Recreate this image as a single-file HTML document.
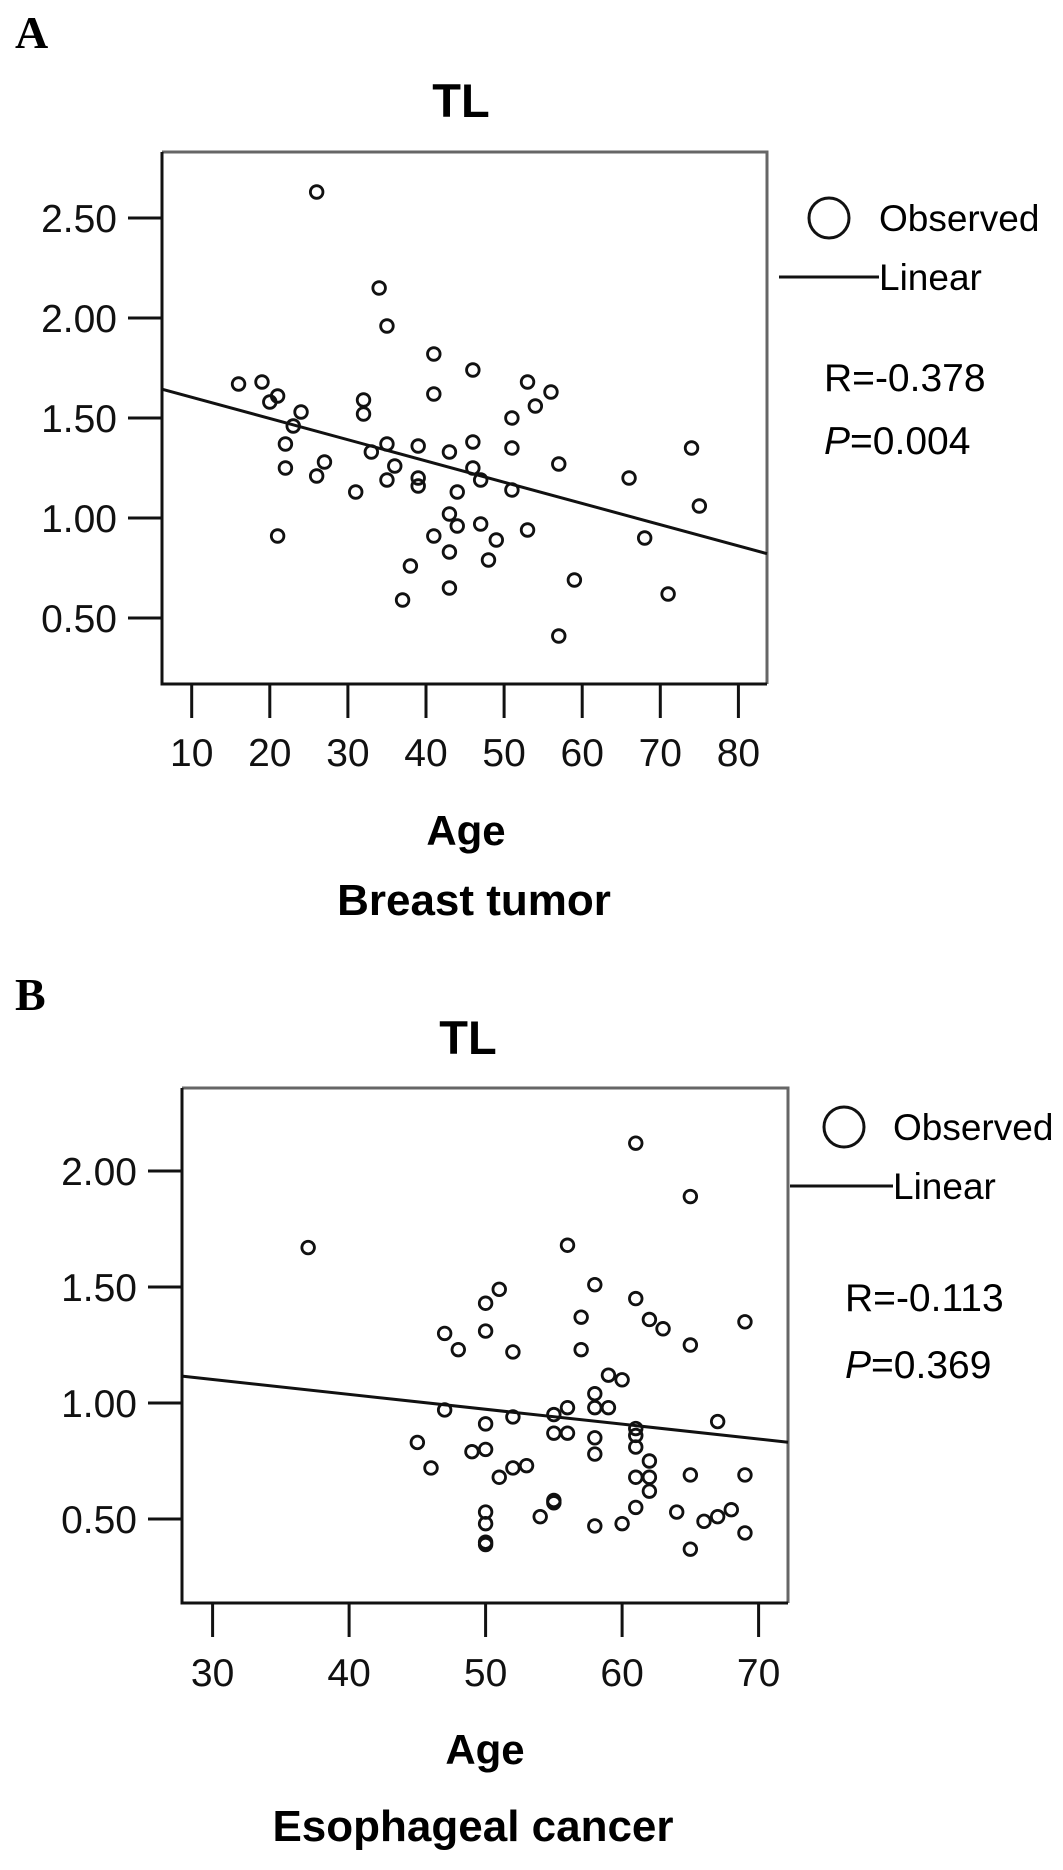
<!DOCTYPE html>
<html><head><meta charset="utf-8"><style>
html,body{margin:0;padding:0;background:#fff;}
svg{display:block;font-family:"Liberation Sans",Arial,sans-serif;}
</style></head><body>
<svg id="fig" width="1063" height="1870" viewBox="0 0 1063 1870" xmlns="http://www.w3.org/2000/svg"></svg>
<script>
// ---- Panel A data (Breast tumor) ----
const agesA = [26,34,35,41,46,16,19,21,20,24,23,32,32,41,53,56,54,51,22,22,21,26,27,33,35,36,35,31,39,39,39,43,46,46,47,51,51,44,43,44,41,47,49,43,38,48,37,43,53,57,59,57,66,68,71,74,75];
const tlA   = [2.63,2.15,1.96,1.82,1.74,1.67,1.68,1.61,1.58,1.53,1.46,1.59,1.52,1.62,1.68,1.63,1.56,1.50,1.37,1.25,0.91,1.21,1.28,1.33,1.37,1.26,1.19,1.13,1.36,1.20,1.16,1.33,1.38,1.25,1.19,1.35,1.14,1.13,1.02,0.96,0.91,0.97,0.89,0.83,0.76,0.79,0.59,0.65,0.94,1.27,0.69,0.41,1.20,0.90,0.62,1.35,1.06];
const xTicksA = [10,20,30,40,50,60,70,80];
const yTicksA = [0.5,1.0,1.5,2.0,2.5];
const yTickLabelsA = ["0.50","1.00","1.50","2.00","2.50"];
const fitA = [1.710,-0.01062]; // intercept, slope
// ---- Panel B data (Esophageal cancer) ----
const agesB = [37,61,65,56,58,51,50,61,57,62,63,69,47,50,48,52,57,65,59,60,58,56,58,59,55,47,52,50,67,61,61,55,56,58,45,49,50,61,58,46,52,53,51,62,62,61,62,65,69,55,55,61,64,50,54,68,67,66,50,60,58,50,50,69,65];
const tlB   = [1.67,2.12,1.89,1.68,1.51,1.49,1.43,1.45,1.37,1.36,1.32,1.35,1.30,1.31,1.23,1.22,1.23,1.25,1.12,1.10,1.04,0.98,0.98,0.98,0.95,0.97,0.94,0.91,0.92,0.89,0.86,0.87,0.87,0.85,0.83,0.79,0.80,0.81,0.78,0.72,0.72,0.73,0.68,0.75,0.68,0.68,0.62,0.69,0.69,0.58,0.57,0.55,0.53,0.53,0.51,0.54,0.51,0.49,0.48,0.48,0.47,0.40,0.39,0.44,0.37];
const xTicksB = [30,40,50,60,70];
const yTicksB = [0.5,1.0,1.5,2.0];
const yTickLabelsB = ["0.50","1.00","1.50","2.00"];
const fitB = [1.294,-0.00642];

const NS="http://www.w3.org/2000/svg";
const svg=document.getElementById('fig');
function mk(tag,attrs,parent,text){const e=document.createElementNS(NS,tag);for(const k in attrs)e.setAttribute(k,attrs[k]);if(text!==undefined)e.textContent=text;(parent||svg).appendChild(e);return e;}

function panel(cfg){
  const g=mk('g',{});
  
  
  const X=a=>cfg.x0+(a-cfg.xa)*cfg.xs;
  const Y=v=>cfg.y0-(v-cfg.ya)*cfg.ys;
  const L=cfg.box[0],T=cfg.box[1],R=cfg.box[2],B=cfg.box[3];
  const lab=mk('text',{x:15,y:cfg.letterY,'font-family':'"Liberation Serif",serif','font-weight':'bold','font-size':46},g,cfg.letter);
  
  
  const t=mk('text',{x:cfg.titleX,y:cfg.titleY,'text-anchor':'middle','font-weight':'bold','font-size':47},g,'TL');
  
  
  const top=mk('path',{d:`M${L} ${T}H${R}V${B}`,fill:'none',stroke:'#666','stroke-width':3},g);
  
  
  const ax=mk('path',{d:`M${L} ${T}V${B}H${R}`,fill:'none',stroke:'#111','stroke-width':3},g);
  
  
  cfg.yt.forEach((v,i)=>{
    const tk=mk('line',{x1:L-34,x2:L,y1:Y(v),y2:Y(v),stroke:'#111','stroke-width':3},g);
    
    
    const tl=mk('text',{x:cfg.ylabR,y:Y(v)+14,'text-anchor':'end','font-size':39,fill:'#111'},g,cfg.ytl[i]);
    
    
  });
  cfg.xt.forEach(a=>{
    const tk=mk('line',{x1:X(a),x2:X(a),y1:B,y2:B+34,stroke:'#111','stroke-width':3},g);
    
    
    const tl=mk('text',{x:X(a),y:cfg.xlabY,'text-anchor':'middle','font-size':39,fill:'#111'},g,String(a));
    
    
  });
  // fit line clipped to box
  const aL=cfg.xa+(L-cfg.x0)/cfg.xs, aR=cfg.xa+(R-cfg.x0)/cfg.xs;
  const fl=mk('line',{x1:L,y1:Y(cfg.fit[0]+cfg.fit[1]*aL),x2:R,y2:Y(cfg.fit[0]+cfg.fit[1]*aR),stroke:'#111','stroke-width':3},g);
  
  
  cfg.ages.forEach((a,i)=>{
    const c=mk('circle',{cx:X(a),cy:Y(cfg.tl[i]),r:6.3,fill:'none',stroke:'#111','stroke-width':2.8},g);
    
    
  });
  const lx=cfg.leg;
  const lc=mk('circle',{cx:lx[0],cy:lx[1],r:20,fill:'none',stroke:'#111','stroke-width':3},g);
  
  
  const lo=mk('text',{x:lx[2],y:lx[1]+13,'font-size':37},g,'Observed');
  
  
  const ll=mk('line',{x1:lx[3],x2:lx[2],y1:lx[4],y2:lx[4],stroke:'#111','stroke-width':3},g);
  
  
  const lt=mk('text',{x:lx[2],y:lx[4]+13,'font-size':37},g,'Linear');
  
  
  const rt=mk('text',{x:lx[5],y:lx[6],'font-size':39},g,cfg.rText);
  
  
  const pt=mk('text',{x:lx[5],y:lx[7],'font-size':39},g);
  
  
  mk('tspan',{'font-style':'italic'},pt,'P');
  mk('tspan',{},pt,cfg.pText);
  const xa=mk('text',{x:cfg.ageX,y:cfg.ageY,'text-anchor':'middle','font-weight':'bold','font-size':42},g,'Age');
  
  
  const st=mk('text',{x:cfg.subX,y:cfg.subY,'text-anchor':'middle','font-weight':'bold','font-size':44},g,cfg.sub);
  
  
}

panel({name:'panel-a-breast-tumor',letter:'A',letterY:48,titleX:461,titleY:117,
  box:[162,152,767,684],x0:191.7,xa:10,xs:7.81,y0:218,ya:2.5,ys:200,
  xt:xTicksA,yt:yTicksA,ytl:yTickLabelsA,ylabR:117,xlabY:766,
  ages:agesA,tl:tlA,fit:fitA,
  leg:[829,218,879,779,277,824,391,454],rText:'R=-0.378',pText:'=0.004',
  ageX:466,ageY:845,subX:474,subY:915,sub:'Breast tumor'});

panel({name:'panel-b-esophageal-cancer',letter:'B',letterY:1010,titleX:468,titleY:1054,
  box:[182,1088,788,1603],x0:212.6,xa:30,xs:13.65,y0:1171,ya:2.0,ys:232,
  xt:xTicksB,yt:yTicksB,ytl:yTickLabelsB,ylabR:137,xlabY:1686,
  ages:agesB,tl:tlB,fit:fitB,
  leg:[844,1127,893,790,1186,845,1311,1378],rText:'R=-0.113',pText:'=0.369',
  ageX:485,ageY:1764,subX:473,subY:1841,sub:'Esophageal cancer'});
</script>
</body></html>
